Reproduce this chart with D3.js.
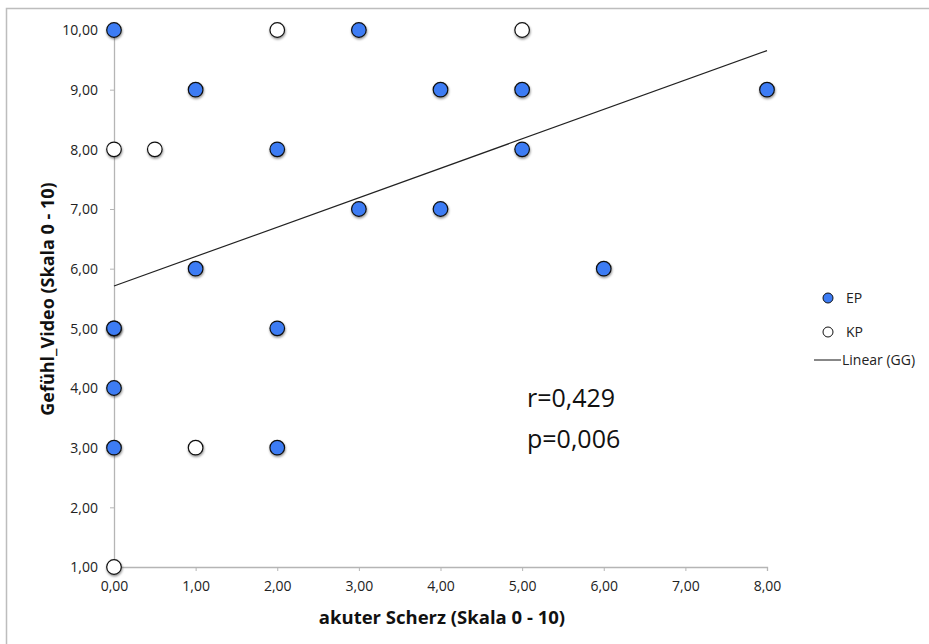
<!DOCTYPE html>
<html>
<head>
<meta charset="utf-8">
<script src="https://cdn.jsdelivr.net/npm/d3@7"></script>
<style>
  body { margin: 0; background: #fff; }
  svg { font-family: "Open Sans", sans-serif; }
</style>
</head>
<body>
<svg class="main" width="929" height="644"></svg>
<script>
// data
var EP_X = [0, 1, 2, 1, 0, 0, 2, 0, 0, 2, 3, 4, 5, 3, 4, 5, 6, 8];
var EP_Y = [10, 9, 8, 6, 5, 5, 5, 4, 3, 3, 10, 9, 9, 7, 7, 8, 6, 9];
var KP_X = [2, 5, 0, 0.5, 1, 0];
var KP_Y = [10, 10, 8, 8, 3, 1];
var X_TICKS = [0, 1, 2, 3, 4, 5, 6, 7, 8];
var Y_TICKS = [1, 2, 3, 4, 5, 6, 7, 8, 9, 10];
var TREND = { intercept: 5.71, slope: 0.493, from: 0, to: 8 };
var STATS = ["r=0,429", "p=0,006"];
var LEGEND = ["EP", "KP", "Linear (GG)"];

var BLUE = "#3d7cf4";

var svg = d3.select("svg.main");

var W = 929, H = 644;

var x = d3.scaleLinear().domain([0, 8]).range([114, 767]);
var y = d3.scaleLinear().domain([1, 10]).range([567, 30]);

var fmt = function(d) { return d3.format(".2f")(d).replace(".", ","); };

// drop shadow for markers
var defs = svg.append("defs");
var f = defs.append("filter").attr("id", "shadow")
  .attr("x", "-50%").attr("y", "-50%").attr("width", "200%").attr("height", "200%");
f.append("feDropShadow")
  .attr("dx", 0.5).attr("dy", 1.5).attr("stdDeviation", 1.2)
  .attr("flood-color", "#000").attr("flood-opacity", 0.45);

// outer frame (only left and top show)
svg.append("path")
  .attr("d", "M6.5," + H + "V8.5H" + W)
  .attr("fill", "none")
  .attr("stroke", "#bdbdbd")
  .attr("stroke-width", 1.5);

// axes
var xAxis = d3.axisBottom(x).tickValues(X_TICKS).tickFormat(fmt).tickSize(4).tickPadding(10);
var yAxis = d3.axisLeft(y).tickValues(Y_TICKS).tickFormat(fmt).tickSize(4).tickPadding(12);

var gx = svg.append("g").attr("transform", "translate(0," + y(1) + ")").call(xAxis);
var gy = svg.append("g").attr("transform", "translate(" + x(0) + ",0)").call(yAxis);

[gx, gy].forEach(function(g) {
  g.select(".domain").attr("stroke", "#b5b5b5").attr("stroke-width", 1.3);
  g.selectAll(".tick line").attr("stroke", "#b5b5b5");
  g.selectAll(".tick text")
    .attr("fill", "#222")
    .style("font-size", "14px")
    .style("font-family", "'Open Sans', sans-serif");
});
gy.selectAll(".tick text").attr("dy", "0.35em");

// axis titles
svg.append("text")
  .attr("x", 442).attr("y", 624)
  .attr("text-anchor", "middle")
  .style("font-size", "18.5px").style("font-weight", "bold")
  .attr("fill", "#111")
  .text("akuter Scherz (Skala 0 - 10)");

svg.append("text")
  .attr("transform", "translate(54,299) rotate(-90)")
  .attr("text-anchor", "middle")
  .style("font-size", "18px").style("font-weight", "bold")
  .attr("fill", "#111")
  .text("Gefühl_Video (Skala 0 - 10)");

// trend line
svg.append("line")
  .attr("x1", x(TREND.from)).attr("y1", y(TREND.intercept + TREND.slope * TREND.from))
  .attr("x2", x(TREND.to)).attr("y2", y(TREND.intercept + TREND.slope * TREND.to))
  .attr("stroke", "#222").attr("stroke-width", 1.2);

// points
var kp = KP_X.map(function(d, i) { return [d, KP_Y[i]]; });
var ep = EP_X.map(function(d, i) { return [d, EP_Y[i]]; });

svg.append("g").selectAll("circle").data(kp).enter().append("circle")
  .attr("cx", function(d) { return x(d[0]); })
  .attr("cy", function(d) { return y(d[1]); })
  .attr("r", 7.3)
  .attr("fill", "#fff")
  .attr("stroke", "#111").attr("stroke-width", 1.2)
  .attr("filter", "url(#shadow)");

svg.append("g").selectAll("circle").data(ep).enter().append("circle")
  .attr("cx", function(d) { return x(d[0]); })
  .attr("cy", function(d) { return y(d[1]); })
  .attr("r", 7.3)
  .attr("fill", BLUE)
  .attr("stroke", "#111").attr("stroke-width", 1.2)
  .attr("filter", "url(#shadow)");

// r / p annotation
svg.selectAll("text.stat").data(STATS).enter().append("text")
  .attr("class", "stat")
  .attr("x", 527)
  .attr("y", function(d, i) { return 407 + i * 41; })
  .style("font-size", "25px")
  .attr("fill", "#111")
  .text(function(d) { return d; });

// legend
var lg = svg.append("g");
lg.append("circle").attr("cx", 828).attr("cy", 298).attr("r", 5)
  .attr("fill", BLUE).attr("stroke", "#111").attr("stroke-width", 1);
lg.append("circle").attr("cx", 828).attr("cy", 332).attr("r", 5)
  .attr("fill", "#fff").attr("stroke", "#111").attr("stroke-width", 1);
lg.append("line").attr("x1", 814).attr("x2", 841).attr("y1", 360).attr("y2", 360)
  .attr("stroke", "#111").attr("stroke-width", 1);
lg.selectAll("text").data(LEGEND).enter().append("text")
  .attr("x", function(d, i) { return i < 2 ? 846 : 842; })
  .attr("y", function(d, i) { return [298, 332, 360][i]; })
  .attr("dy", "0.35em")
  .style("font-size", "14px")
  .attr("fill", "#222")
  .text(function(d) { return d; });
</script>
</body>
</html>
